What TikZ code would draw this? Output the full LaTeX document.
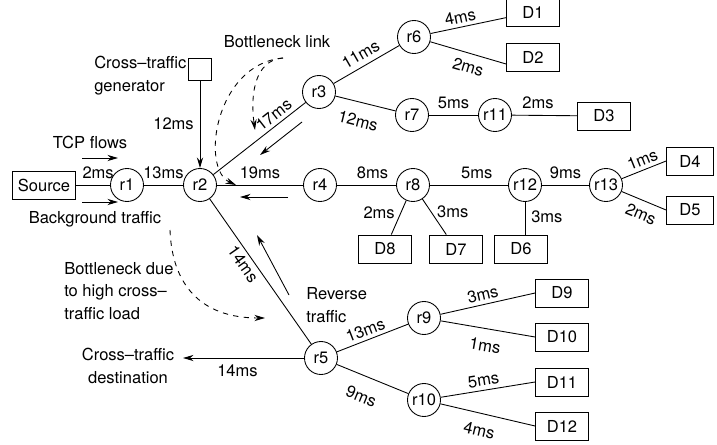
\documentclass[tikz,border=0pt]{standalone}
\usepackage{fontspec}
\setmainfont{TeX Gyre Heros}
\usetikzlibrary{arrows.meta}

\begin{document}
\begin{tikzpicture}[x=0.02cm, y=0.02cm, >={Stealth[length=6pt,width=3.5pt]},
    font=\fontsize{9.4}{13}\selectfont, line width=0.5pt,
    router/.style={circle, draw, minimum size=0.66cm, inner sep=0pt},
    host/.style={draw, minimum width=1.06cm, minimum height=0.56cm, inner sep=0pt},
    lbl/.style={sloped, inner sep=2pt},
    hint/.style={->, dashed}]
    \useasboundingbox (0,0) rectangle (717,444);

    % routers
    \node[router] (r1) at (127,259) {r1};
    \node[router] (r2) at (200,259) {r2};
    \node[router] (r3) at (319,352) {r3};
    \node[router] (r4) at (320,259) {r4};
    \node[router] (r5) at (321,86) {r5};
    \node[router] (r6) at (414,407) {r6};
    \node[router] (r7) at (412,329) {r7};
    \node[router] (r8) at (413,259) {r8};
    \node[router] (r9) at (424,126) {r9};
    \node[router] (r10) at (424,44) {r10};
    \node[router] (r11) at (495,329) {r11};
    \node[router] (r12) at (525,259) {r12};
    \node[router] (r13) at (606,259) {r13};

    % end hosts
    \node[host, minimum width=1.26cm] (src) at (44,259) {Source};
    \node[draw, minimum width=0.46cm, minimum height=0.44cm] (gen) at (200,375) {};
    \node[host] (D1) at (533,432) {D1};
    \node[host] (D2) at (533,387) {D2};
    \node[host] (D3) at (604,328) {D3};
    \node[host, minimum width=0.94cm] (D4) at (690,283) {D4};
    \node[host, minimum width=0.94cm] (D5) at (690,234) {D5};
    \node[host] (D6) at (521,195) {D6};
    \node[host] (D7) at (456,195) {D7};
    \node[host] (D8) at (385,195) {D8};
    \node[host] (D9) at (562,151) {D9};
    \node[host] (D10) at (562,107) {D10};
    \node[host] (D11) at (562,62) {D11};
    \node[host] (D12) at (562,18) {D12};

    % links
    \path (src) edge node[above, pos=0.65] {2ms} (r1)
          (r1) edge node[above] {13ms} (r2)
          (r2) edge node[above, pos=0.5] {19ms} (r4)
               edge node[lbl, above, pos=0.72] {17ms} (r3)
               edge node[lbl, below, pos=0.41] {14ms} (r5)
          (r3) edge node[lbl, above=1pt, pos=0.5] {11ms} (r6)
               edge node[lbl, below=5pt, pos=0.45] {12ms} (r7)
          (r6) edge node[lbl, above, pos=0.42] {4ms} (D1)
               edge node[lbl, below=2pt, pos=0.55] {2ms} ([yshift=-0.14cm]D2.west)
          (r7) edge node[above] {5ms} (r11)
          (r11) edge node[above, pos=0.4] {2ms} (D3)
          (r4) edge node[above, pos=0.6] {8ms} (r8)
          (r8) edge node[above, pos=0.6] {5ms} (r12)
               edge node[left, pos=0.35] {2ms} (D8)
               edge node[right, pos=0.35] {3ms} (D7)
          (r12) edge node[above] {9ms} (r13)
          (r13) edge node[lbl, above, pos=0.55] {1ms} (D4.west)
                edge node[lbl, below=2pt, pos=0.55] {2ms} (D5.west)
          (r5) edge node[lbl, above, pos=0.45] {13ms} (r9)
               edge node[lbl, below=6pt, pos=0.45] {9ms} (r10)
          (r9) edge node[lbl, above, pos=0.47] {3ms} (D9.west)
               edge node[lbl, below=4pt, pos=0.5] {1ms} (D10.west)
          (r10) edge node[lbl, above, pos=0.47] {5ms} (D11.west)
                edge node[lbl, below=4pt, pos=0.45] {4ms} (D12.west);
    \draw (r12.south) -- node[right, pos=0.45] {3ms} (r12.south |- D6.north);
    \draw[->] (gen) -- node[left, pos=0.5] {12ms} (r2);

    % cross traffic sink
    \node[align=center] (dst) at (128,78) {Cross–traffic\\destination};
    \coordinate (dsttip) at (183,86);
    \draw[->] (r5) -- node[below, pos=0.55] {14ms} (dsttip);

    % annotations
    \node[anchor=west, align=left] (gentxt) at (88,368) {Cross–traffic\\generator};
    \node (bltxt) at (277,402) {Bottleneck link};
    \node (tcptxt) at (90,302) {TCP flows};
    \node (bgtxt) at (95,225) {Background traffic};
    \node[anchor=west, align=left] (hctxt) at (58,153) {Bottleneck due\\to high cross–\\traffic load};
    \node[anchor=west, align=left] (revtxt) at (300,139) {Reverse\\traffic};

    % flow arrows
    \coordinate (tcpa) at (82,286);  \coordinate (tcpb) at (118,286);
    \coordinate (bga) at (82,242);   \coordinate (bgb) at (118,242);
    \coordinate (fwa) at (302,322);  \coordinate (fwb) at (260,289);
    \coordinate (rva) at (288,247);  \coordinate (rvb) at (240,247);
    \coordinate (rsa) at (289,149);  \coordinate (rsb) at (257,209);
    \draw[->] (tcpa) -- (tcpb);
    \draw[->] (bga) -- (bgb);
    \draw[->] (fwa) -- (fwb);
    \draw[->] (rva) -- (rvb);
    \draw[->] (rsa) -- (rsb);

    % bottleneck hints
    \coordinate (bl1) at (283,386);
    \coordinate (bl2) at (255,314);
    \coordinate (bl3) at (236,259);
    \coordinate (hc1) at (170,214);
    \coordinate (hc2) at (265,126);
    \draw[hint] (bl1) .. controls (255,384) and (250,350) .. (bl2);
    \draw[hint] (bl1) .. controls (215,380) and (200,275) .. (bl3);
    \draw[hint] (hc1) .. controls (172,160) and (200,126) .. (hc2);
\end{tikzpicture}
\end{document}
